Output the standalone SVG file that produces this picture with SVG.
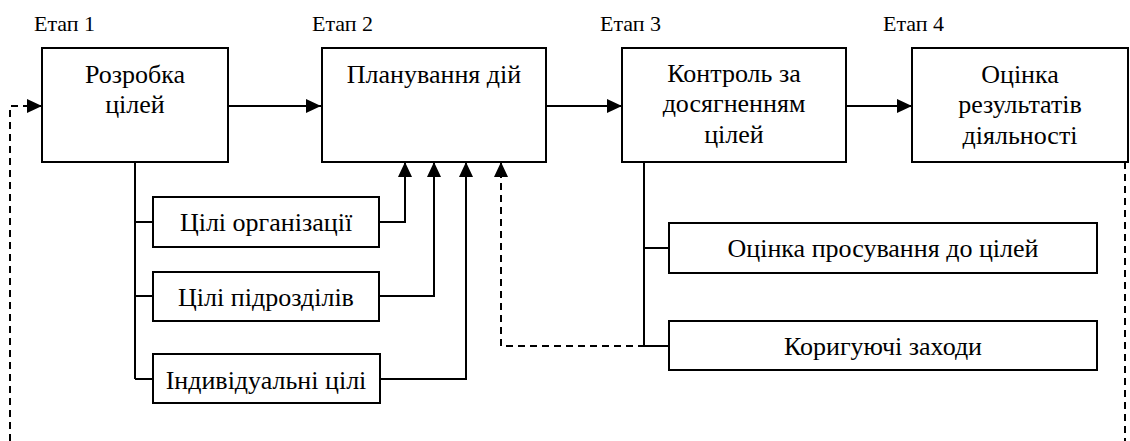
<svg xmlns="http://www.w3.org/2000/svg" width="1130" height="441" viewBox="0 0 1130 441">
  <style>
    .box { fill: #ffffff; stroke: #000000; stroke-width: 2; }
    .line { fill: none; stroke: #000000; stroke-width: 2; }
    .dash { fill: none; stroke: #000000; stroke-width: 2; stroke-dasharray: 7 5; }
  </style>
  <defs>
    <marker id="arrow" markerUnits="userSpaceOnUse" markerWidth="16" markerHeight="14" refX="15" refY="7" orient="auto">
      <path d="M0,0 L15,7 L0,14 Z" fill="#000000"/>
    </marker>
  </defs>
  <rect width="1130" height="441" fill="#ffffff"/>

  <!-- stage captions -->
  <text x="34" y="31" font-family="Liberation Serif, Times New Roman, serif" font-size="22">Етап 1</text>
  <text x="312" y="31" font-family="Liberation Serif, Times New Roman, serif" font-size="22">Етап 2</text>
  <text x="600" y="31" font-family="Liberation Serif, Times New Roman, serif" font-size="22">Етап 3</text>
  <text x="883" y="31" font-family="Liberation Serif, Times New Roman, serif" font-size="22">Етап 4</text>

  <!-- connectors -->
  <g id="connectors">
    <!-- main flow -->
    <path class="line" d="M228,106 L321,106" marker-end="url(#arrow)"/>
    <path class="line" d="M546,106 L622,106" marker-end="url(#arrow)"/>
    <path class="line" d="M846,106 L912,106" marker-end="url(#arrow)"/>
    <!-- goal decomposition trunk -->
    <path class="line" d="M135,162 L135,379"/>
    <path class="line" d="M135,222 L153,222"/>
    <path class="line" d="M135,296 L153,296"/>
    <path class="line" d="M135,379 L153,379"/>
    <!-- goals feeding planning -->
    <path class="line" d="M379,222 L405,222 L405,162" marker-end="url(#arrow)"/>
    <path class="line" d="M379,296 L434,296 L434,162" marker-end="url(#arrow)"/>
    <path class="line" d="M380,379 L466,379 L466,162" marker-end="url(#arrow)"/>
    <!-- control trunk -->
    <path class="line" d="M644,162 L644,346"/>
    <path class="line" d="M644,248 L669,248"/>
    <path class="line" d="M644,346 L669,346"/>
    <!-- corrective feedback to planning -->
    <path class="dash" d="M669,346 L501,346 L501,162" marker-end="url(#arrow)"/>
    <!-- evaluation feedback to goal setting -->
    <path class="dash" d="M1125,162 L1125,441"/>
    <path class="dash" d="M10,441 L10,106 L42,106" marker-end="url(#arrow)"/>
  </g>

  <g id="stage1">
    <rect class="box" x="42" y="48" width="186" height="114"/>
    <text x="135" y="83" font-family="Liberation Serif, Times New Roman, serif" font-size="26" text-anchor="middle">Розробка</text>
    <text x="135" y="113" font-family="Liberation Serif, Times New Roman, serif" font-size="26" text-anchor="middle">цілей</text>
  </g>
  <g id="stage2">
    <rect class="box" x="322" y="48" width="224" height="114"/>
    <text x="434" y="83" font-family="Liberation Serif, Times New Roman, serif" font-size="26" text-anchor="middle">Планування дій</text>
  </g>
  <g id="stage3">
    <rect class="box" x="622" y="48" width="224" height="114"/>
    <text x="734" y="82" font-family="Liberation Serif, Times New Roman, serif" font-size="26" text-anchor="middle">Контроль за</text>
    <text x="734" y="112" font-family="Liberation Serif, Times New Roman, serif" font-size="26" text-anchor="middle">досягненням</text>
    <text x="734" y="143" font-family="Liberation Serif, Times New Roman, serif" font-size="26" text-anchor="middle">цілей</text>
  </g>
  <g id="stage4">
    <rect class="box" x="912" y="48" width="216" height="114"/>
    <text x="1020" y="83" font-family="Liberation Serif, Times New Roman, serif" font-size="26" text-anchor="middle">Оцінка</text>
    <text x="1020" y="113" font-family="Liberation Serif, Times New Roman, serif" font-size="26" text-anchor="middle">результатів</text>
    <text x="1020" y="144" font-family="Liberation Serif, Times New Roman, serif" font-size="26" text-anchor="middle">діяльності</text>
  </g>
  <g id="org-goals">
    <rect class="box" x="153" y="197" width="226" height="50"/>
    <text x="266" y="231" font-family="Liberation Serif, Times New Roman, serif" font-size="26" text-anchor="middle">Цілі організації</text>
  </g>
  <g id="unit-goals">
    <rect class="box" x="153" y="272" width="226" height="49"/>
    <text x="266" y="306" font-family="Liberation Serif, Times New Roman, serif" font-size="26" text-anchor="middle">Цілі підрозділів</text>
  </g>
  <g id="individual-goals">
    <rect class="box" x="153" y="354" width="227" height="49"/>
    <text x="266" y="389" font-family="Liberation Serif, Times New Roman, serif" font-size="26" text-anchor="middle">Індивідуальні цілі</text>
  </g>
  <g id="progress">
    <rect class="box" x="669" y="223" width="428" height="50"/>
    <text x="883" y="257" font-family="Liberation Serif, Times New Roman, serif" font-size="26" text-anchor="middle">Оцінка просування до цілей</text>
  </g>
  <g id="corrective">
    <rect class="box" x="669" y="321" width="428" height="49"/>
    <text x="883" y="355" font-family="Liberation Serif, Times New Roman, serif" font-size="26" text-anchor="middle">Коригуючі заходи</text>
  </g>
</svg>
